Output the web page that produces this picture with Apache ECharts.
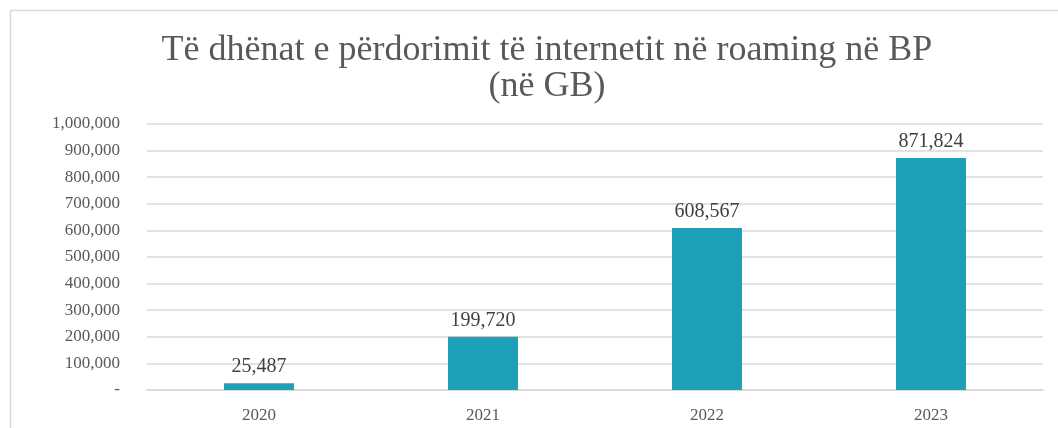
<!DOCTYPE html>
<html>
<head>
<meta charset="utf-8">
<script src="https://cdn.jsdelivr.net/npm/echarts@6/dist/echarts.min.js"></script>
<style>
  html, body { margin: 0; padding: 0; background: #fff; }
  #chart { width: 1058px; height: 428px; }
</style>
</head>
<body>
<div id="chart"></div>
<script>
// të dhënat
const years = ['2020', '2021', '2022', '2023'];
const usageGB = [25487, 199720, 608567, 871824];
const yTicks = [0, 100000, 200000, 300000, 400000, 500000, 600000, 700000, 800000, 900000, 1000000];

const fmt = v => v === 0 ? '-' : v.toLocaleString('en-US');

const chart = echarts.init(document.getElementById('chart'));

chart.setOption({
  animation: false,
  title: {
    text: 'Të dhënat e përdorimit të internetit në roaming në BP\n(në GB)',
    left: 542,
    top: 28,
    textAlign: 'center',
    textStyle: {
      fontFamily: 'Liberation Serif',
      fontWeight: 'normal',
      fontSize: 36,
      color: '#595959',
      lineHeight: 36
    }
  },
  graphic: [{
    type: 'rect',
    shape: { x: 10.5, y: 10.5, width: 1100, height: 600 },
    style: { fill: 'none', stroke: '#d9d9d9', lineWidth: 1.5 },
    silent: true
  }],
  grid: { left: 147, right: 15, top: 124, bottom: 38 },
  xAxis: {
    type: 'category',
    data: years,
    axisLine: { lineStyle: { color: '#d9d9d9', width: 1.5 } },
    axisTick: { show: false },
    axisLabel: {
      margin: 17,
      fontFamily: 'Liberation Serif',
      fontSize: 17,
      color: '#595959'
    }
  },
  yAxis: {
    type: 'value',
    min: yTicks[0],
    max: yTicks[yTicks.length - 1],
    interval: yTicks[1] - yTicks[0],
    axisLine: { show: false },
    axisTick: { show: false },
    splitLine: { lineStyle: { color: '#d9d9d9', width: 1.5 } },
    axisLabel: {
      margin: 27,
      fontFamily: 'Liberation Serif',
      fontSize: 17,
      color: '#595959',
      formatter: fmt
    }
  },
  series: [{
    type: 'bar',
    data: usageGB,
    barWidth: 70,
    itemStyle: { color: '#1fa0b9' },
    label: {
      show: true,
      position: 'top',
      distance: 6,
      fontFamily: 'Liberation Serif',
      fontSize: 20,
      color: '#404040',
      formatter: p => fmt(p.value)
    }
  }]
});
</script>
</body>
</html>
